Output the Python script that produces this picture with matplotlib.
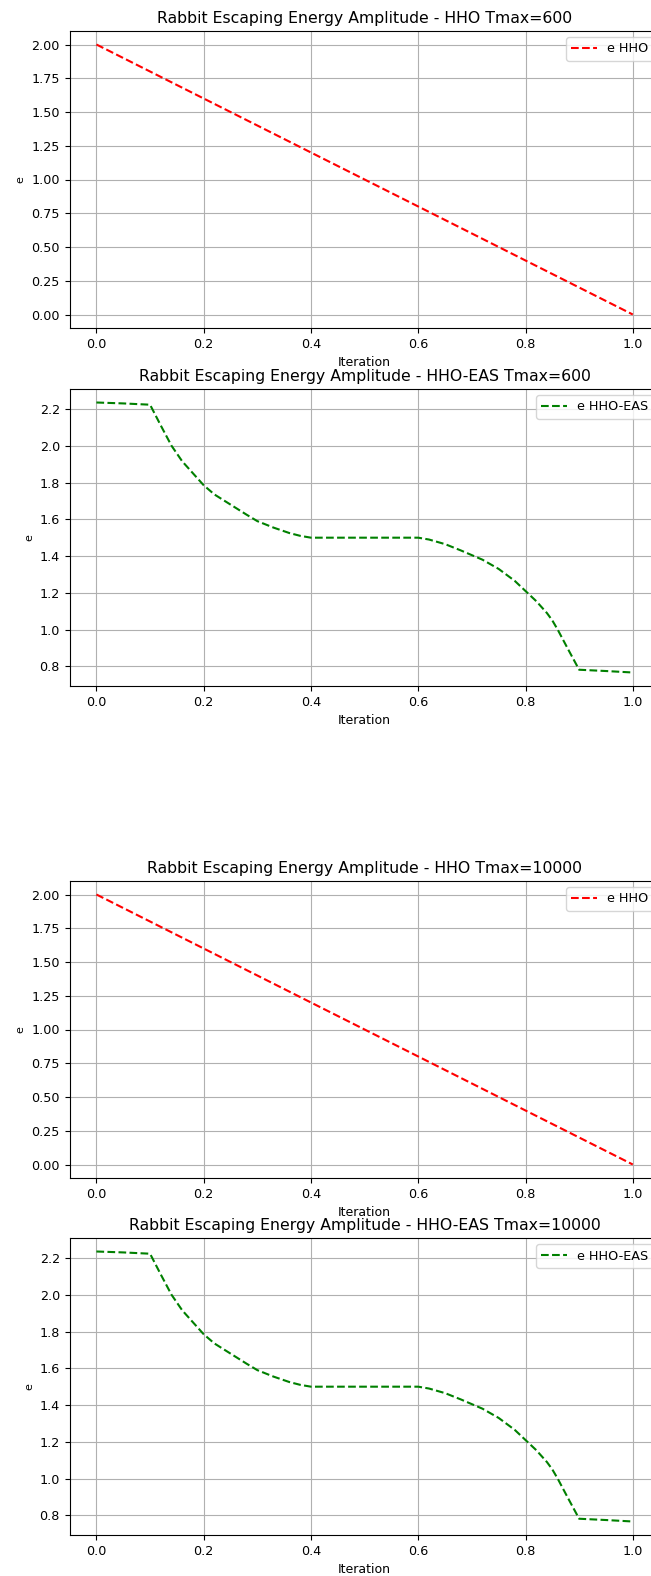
import numpy as np
import matplotlib
matplotlib.use("Agg")
import matplotlib.pyplot as plt

# values
iter_hho = [0.0, 0.2, 0.4, 0.6, 0.8, 1.0]
e_hho_600 = [2.0, 1.6, 1.2, 0.8, 0.4, 0.0]
e_hho_10000 = [2.0, 1.6, 1.2, 0.8, 0.4, 0.0]

iter_eas = [0.0, 0.05, 0.1, 0.12, 0.14, 0.16, 0.18, 0.2, 0.22, 0.25, 0.28,
            0.3, 0.33, 0.36, 0.38, 0.4, 0.5, 0.6, 0.62, 0.65, 0.68, 0.7,
            0.72, 0.75, 0.78, 0.8, 0.82, 0.84, 0.85, 0.86, 0.88, 0.9, 0.95, 1.0]
e_eas_600 = [2.235, 2.23, 2.223, 2.11, 2.0, 1.915, 1.85, 1.785, 1.735, 1.68,
             1.625, 1.59, 1.555, 1.525, 1.51, 1.50, 1.50, 1.50, 1.49, 1.465,
             1.43, 1.405, 1.38, 1.33, 1.265, 1.21, 1.155, 1.09, 1.05, 1.0,
             0.89, 0.782, 0.775, 0.767]
e_eas_10000 = list(e_eas_600)

titles = ["Rabbit Escaping Energy Amplitude - HHO Tmax=600",
          "Rabbit Escaping Energy Amplitude - HHO-EAS Tmax=600",
          "Rabbit Escaping Energy Amplitude - HHO Tmax=10000",
          "Rabbit Escaping Energy Amplitude - HHO-EAS Tmax=10000"]

fig = plt.figure(figsize=(6.51, 15.76), dpi=100)

W, H = 651.0, 1576.0
left = 69.6 / W
width = 590.0 / W
tops = [31, 389, 881, 1238]
ah = 297.0

panels = [
    (iter_hho, e_hho_600, 'r--', 'e HHO'),
    (iter_eas, e_eas_600, 'g--', 'e HHO-EAS'),
    (iter_hho, e_hho_10000, 'r--', 'e HHO'),
    (iter_eas, e_eas_10000, 'g--', 'e HHO-EAS'),
]

for i, (xs, ys, sty, lab) in enumerate(panels):
    bottom = (H - tops[i] - ah) / H
    ax = fig.add_axes([left, bottom, width, ah / H])
    ax.plot(xs, ys, sty, lw=1.5, label=lab)
    ax.set_title(titles[i], fontsize=11.3)
    ax.set_xlabel('Iteration', fontsize=9)
    ax.set_ylabel('e', fontsize=8)
    ax.tick_params(labelsize=9.2)
    ax.grid(True)
    ax.legend(loc='upper right', fontsize=9.2)

plt.savefig("out.png", dpi=100)
